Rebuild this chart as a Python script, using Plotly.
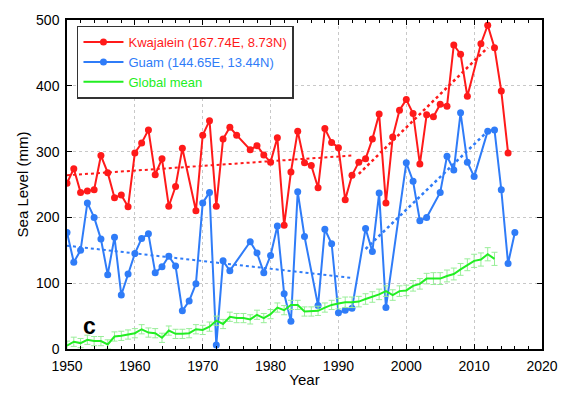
import plotly.graph_objects as go

kwaj_years = [1950,1951,1952,1953,1954,1955,1956,1957,1958,1959,1960,1961,1962,1963,1964,1965,1966,1967,1969,
              1970,1971,1972,1973,1974,1975,1977,1978,1979,1980,1981,1982,1983,1984,1985,1986,1987,1988,1989,1990,
              1991,1992,1993,1994,1995,1996,1997,1998,1999,2000,2001,2002,2003,2004,2005,2006,2007,2008,2009,
              2011,2012,2013,2014,2015]
kwaj_vals = [252,274,238,240,242,294,268,230,234,216,298,313,333,265,289,217,247,305,210,
             325,347,217,319,337,325,303,309,295,284,321,188,269,331,283,279,245,335,314,306,
             227,264,284,289,319,357,222,322,363,379,358,281,356,353,372,369,462,448,384,
             464,492,458,392,298]

guam_years = [1950,1951,1952,1953,1954,1955,1956,1957,1958,1959,1960,1961,1962,1963,1964,1965,1966,1967,1968,1969,
              1970,1971,1972,1973,1974,1977,1978,1979,1980,1981,1982,1983,1984,1985,1987,1988,1989,1990,1991,1992,
              1994,1995,1996,1997,2000,2001,2002,2003,2005,2006,2007,2008,2009,2010,2012,2013,2014,2015,2016]
guam_vals = [177,132,150,222,200,167,113,170,82,114,145,168,175,116,125,141,126,58,73,99,
             222,238,6,134,119,163,146,116,142,187,84,42,239,171,66,182,160,55,59,62,
             183,148,237,63,283,255,195,200,238,293,272,359,284,262,331,333,242,130,177]

glob_years = list(range(1950, 2014))
glob_vals = [5,11,9,14,12,12,7,19,20,22,24,30,25,24,17,28,23,23,24,30,
             29,34,43,38,49,47,47,45,52,47,53,63,59,67,67,57,57,58,63,67,
             69,71,71,72,76,79,83,88,82,88,89,96,99,107,107,107,111,114,121,128,
             134,136,144,137]
glob_err = [7]*40 + [8]*14 + [9]*6 + [10]*4

kwaj_trend1_x = [1950, 1992]; kwaj_trend1_y = [264, 294]
kwaj_trend2_x = [1993, 2012]; kwaj_trend2_y = [266, 458]
guam_trend1_x = [1950, 1992]; guam_trend1_y = [157, 108]
guam_trend2_x = [1994, 2012]; guam_trend2_y = [152, 331]

RED = "#ff1a1a"
BLUE = "#2f7cf8"
GREEN = "#22ee22"

fig = go.Figure()
fig.add_trace(go.Scatter(x=kwaj_trend1_x, y=kwaj_trend1_y, mode="lines",
                         line=dict(color=RED, width=2, dash="dot"), showlegend=False))
fig.add_trace(go.Scatter(x=kwaj_trend2_x, y=kwaj_trend2_y, mode="lines",
                         line=dict(color=RED, width=2.5, dash="dot"), showlegend=False))
fig.add_trace(go.Scatter(x=guam_trend1_x, y=guam_trend1_y, mode="lines",
                         line=dict(color=BLUE, width=2, dash="dot"), showlegend=False))
fig.add_trace(go.Scatter(x=guam_trend2_x, y=guam_trend2_y, mode="lines",
                         line=dict(color=BLUE, width=2.5, dash="dot"), showlegend=False))

fig.add_trace(go.Scatter(x=kwaj_years, y=kwaj_vals, mode="lines+markers",
                         name='<span style="color:#ff1a1a">Kwajalein (167.74E, 8.73N)</span>',
                         line=dict(color=RED, width=2), marker=dict(size=7, color=RED)))
fig.add_trace(go.Scatter(x=guam_years, y=guam_vals, mode="lines+markers",
                         name='<span style="color:#2f7cf8">Guam (144.65E, 13.44N)</span>',
                         line=dict(color=BLUE, width=2), marker=dict(size=7, color=BLUE)))
fig.add_trace(go.Scatter(x=glob_years, y=glob_vals, mode="lines",
                         name='<span style="color:#22ee22">Global mean</span>',
                         line=dict(color=GREEN, width=2),
                         error_y=dict(type="data", array=glob_err, color="#99ee99", thickness=1, width=3)))

fig.add_annotation(x=1953.3, y=35, text="<b>c</b>", showarrow=False,
                   font=dict(size=23, color="black", family="Liberation Sans, Arial"))

axis_common = dict(showline=True, linecolor="black", linewidth=1.5, mirror="allticks",
                   ticks="inside", ticklen=5, tickcolor="black",
                   showgrid=True, gridcolor="#c8c8c8", griddash="dot", gridwidth=1,
                   zeroline=False, tickfont=dict(size=14, color="black"))

fig.update_xaxes(range=[1950, 2020], dtick=10, tick0=1950, ticklabelstandoff=3,
                 minor=dict(dtick=2, ticks="inside", ticklen=3, tickcolor="black", showgrid=False),
                 title=dict(text="Year", font=dict(size=15, color="black"), standoff=2),
                 **axis_common)
fig.update_yaxes(range=[0, 500], dtick=100, tick0=0, ticklabelstandoff=3,
                 title=dict(text="Sea Level (mm)", font=dict(size=15, color="black"), standoff=4),
                 **axis_common)

fig.update_layout(
    width=570, height=398,
    margin=dict(l=67, r=18, t=19, b=47),
    paper_bgcolor="white", plot_bgcolor="white",
    font=dict(family="Liberation Sans, Arial", size=13, color="black"),
    legend=dict(x=0.021, y=0.983, xanchor="left", yanchor="top",
                bgcolor="white", bordercolor="#333333", borderwidth=1.5,
                font=dict(size=13), itemwidth=40, tracegroupgap=2),
)

fig.write_html("out.html")
